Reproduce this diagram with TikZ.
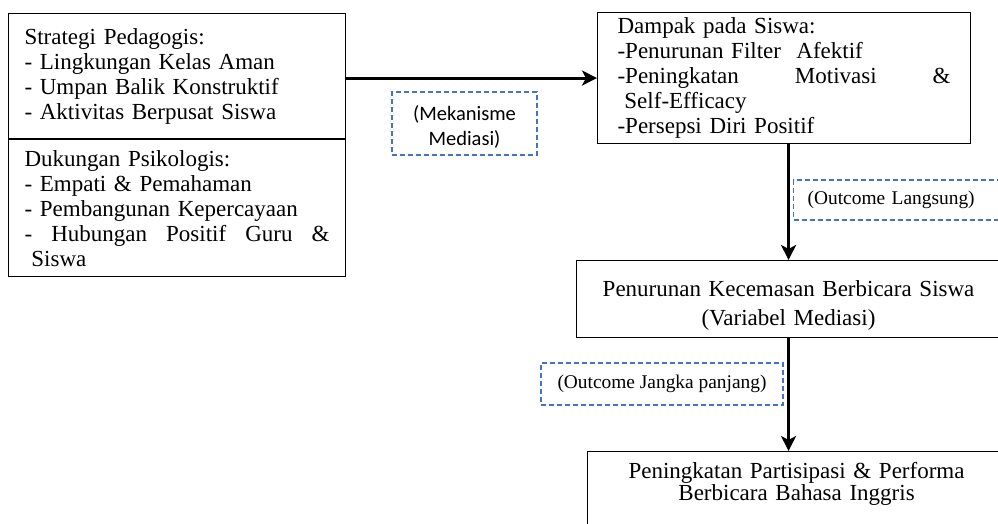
\documentclass[tikz,border=0pt]{standalone}
\usepackage{fontspec}
\setmainfont{Liberation Serif}
\newfontfamily\tnr{Liberation Serif}
\newfontfamily\calibri{Carlito}
\usetikzlibrary{arrows.meta,positioning}
\definecolor{dashblue}{RGB}{68,114,196}
\tikzset{
  box/.style={draw=black, line width=1.1pt, rectangle, inner ysep=0pt,
    font=\tnr\fontsize{23}{25}\selectfont},
  medbox/.style={draw=dashblue, dash pattern=on 5pt off 3pt, line width=1.3pt,
    rectangle, font=\tnr\fontsize{19.4}{24}\selectfont},
  flow/.style={line width=3pt, -{Stealth[length=15pt,width=15pt,inset=4pt]}},
}

\begin{document}
\begin{tikzpicture}[x=1pt,y=-1pt]
  \useasboundingbox (0,0) rectangle (998,523);
  % left column
  \node[box, anchor=north west, minimum width=337pt, minimum height=125pt,
        text width=305pt, inner xsep=16pt, align=left] (ped) at (8,13)
       {Strategi Pedagogis:\\- Lingkungan Kelas Aman\\- Umpan Balik Konstruktif\\- Aktivitas Berpusat Siswa};
  \node[box, anchor=north, minimum width=337pt, minimum height=137pt,
        text width=305pt, inner xsep=16pt, align=left] (psi) at (ped.south)
       {Dukungan Psikologis:\\- Empati \& Pemahaman\\- Pembangunan Kepercayaan\\
        \makebox[305pt][l]{-\hfill Hubungan\hfill Positif\hfill Guru\hfill \&}\\\hspace*{.3em}Siswa};
  % right column
  \node[box, anchor=north west, minimum width=373pt, minimum height=131pt,
        text width=333pt, inner xsep=20pt, align=left] (dampak) at (597,12)
       {Dampak pada Siswa:\\-Penurunan Filter\ \ Afektif\\
        \makebox[333pt][l]{-Peningkatan\hfill Motivasi\hfill \&}\\\hspace*{.3em}Self-Efficacy\\-Persepsi Diri Positif};
  \node[box, anchor=north west, minimum width=424pt, minimum height=77pt,
        text width=384pt, inner xsep=20pt, align=center,
        font=\tnr\fontsize{23}{29}\selectfont] (turun) at (576,260)
       {\rule{0pt}{28.5pt}Penurunan Kecemasan Berbicara Siswa\\(Variabel Mediasi)};
  \node[box, anchor=north west, text width=378pt, inner xsep=20pt, inner ysep=11pt,
        align=center, text depth=70pt, font=\tnr\fontsize{23}{22}\selectfont] (hasil) at (587,451)
       {Peningkatan Partisipasi \& Performa\\Berbicara Bahasa Inggris};
  % dashed labels
  \node[medbox, minimum width=145pt, minimum height=63pt, align=center,
        font=\calibri\fontsize{20.5}{25}\selectfont] (mek) at (464.5,123.5)
       {\rule{0pt}{21pt}(Mekanisme\\Mediasi)};
  \node[medbox, anchor=west, minimum height=40pt, text width=200pt, inner xsep=14pt,
        align=left] (lang) at (793,200) {(Outcome Langsung)};
  \node[medbox, minimum width=242pt, minimum height=42pt] (jangka) at (662,384)
       {(Outcome Jangka panjang)};
  % arrows
  \draw[flow] (ped.east |- dampak.west) -- (dampak.west);
  \draw[flow] (dampak.south -| turun.north) -- (turun.north);
  \draw[flow] (turun.south) -- (turun.south |- hasil.north);
\end{tikzpicture}
\end{document}
